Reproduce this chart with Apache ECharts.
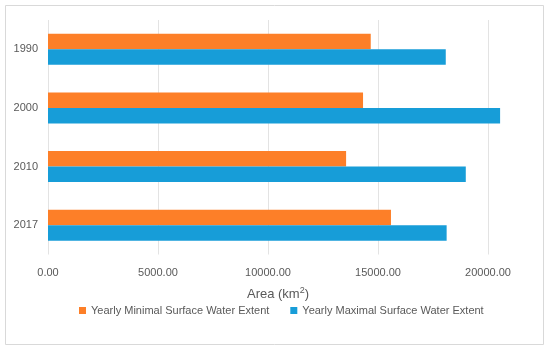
<!DOCTYPE html>
<html>
<head>
<meta charset="utf-8">
<script src="https://cdn.jsdelivr.net/npm/echarts@6/dist/echarts.min.js"></script>
<style>html,body{margin:0;padding:0;background:#fff;}#c{width:550px;height:347px;}</style>
</head>
<body>
<div id="c"></div>
<script>
var years = ['1990', '2000', '2010', '2017'];
var minimalExtent = [14670, 14320, 13550, 15590];
var maximalExtent = [18080, 20550, 18990, 18120];
var xTicks = [0, 5000, 10000, 15000, 20000];

var chart = echarts.init(document.getElementById('c'), null, {renderer: 'canvas'});
var font = 'Liberation Sans, Arial, sans-serif';
chart.setOption({
  animation: false,
  backgroundColor: '#fff',
  graphic: [{
    type: 'rect', shape: {x: 5.5, y: 5.5, width: 538, height: 339},
    style: {fill: 'none', stroke: '#d9d9d9', lineWidth: 1}, silent: true, z: 100
  }],
  grid: {left: 48, width: 550, top: 20, bottom: 92.5, containLabel: false, outerBoundsMode: 'none'},
  legend: {
    top: 300, left: 74, itemWidth: 7, itemHeight: 7, itemGap: 21,
    icon: 'rect',
    textStyle: {color: '#595959', fontSize: 11, fontFamily: font},
    data: ['Yearly Minimal Surface Water Extent', 'Yearly Maximal Surface Water Extent']
  },
  xAxis: {
    type: 'value', min: 0, max: 25000, interval: 5000,
    name: 'Area (km{sup|2})', nameLocation: 'middle', nameGap: 32,
    nameTextStyle: {color: '#595959', fontSize: 13, fontFamily: font, padding: [0, 90, 0, 0],
      rich: {sup: {fontSize: 9, verticalAlign: 'top', padding: [0, 0, 6, 0], color: '#595959', fontFamily: font}}},
    axisLine: {show: false}, axisTick: {show: false},
    axisLabel: {color: '#595959', fontSize: 11, fontFamily: font, margin: 13, showMaxLabel: false,
      formatter: function (v) { return xTicks.indexOf(v) >= 0 ? v.toFixed(2) : ''; }},
    splitLine: {lineStyle: {color: '#e3e3e3', width: 1}}
  },
  yAxis: {
    type: 'category', data: years, inverse: true,
    axisLine: {show: false}, axisTick: {show: false},
    axisLabel: {color: '#595959', fontSize: 11, fontFamily: font, margin: 10}
  },
  series: [
    {name: 'Yearly Minimal Surface Water Extent', type: 'bar', data: minimalExtent,
      itemStyle: {color: '#fd7f28'}, barGap: '0%', barCategoryGap: '47%'},
    {name: 'Yearly Maximal Surface Water Extent', type: 'bar', data: maximalExtent,
      itemStyle: {color: '#179dd8'}, barGap: '0%', barCategoryGap: '47%'}
  ]
});
</script>
</body>
</html>
